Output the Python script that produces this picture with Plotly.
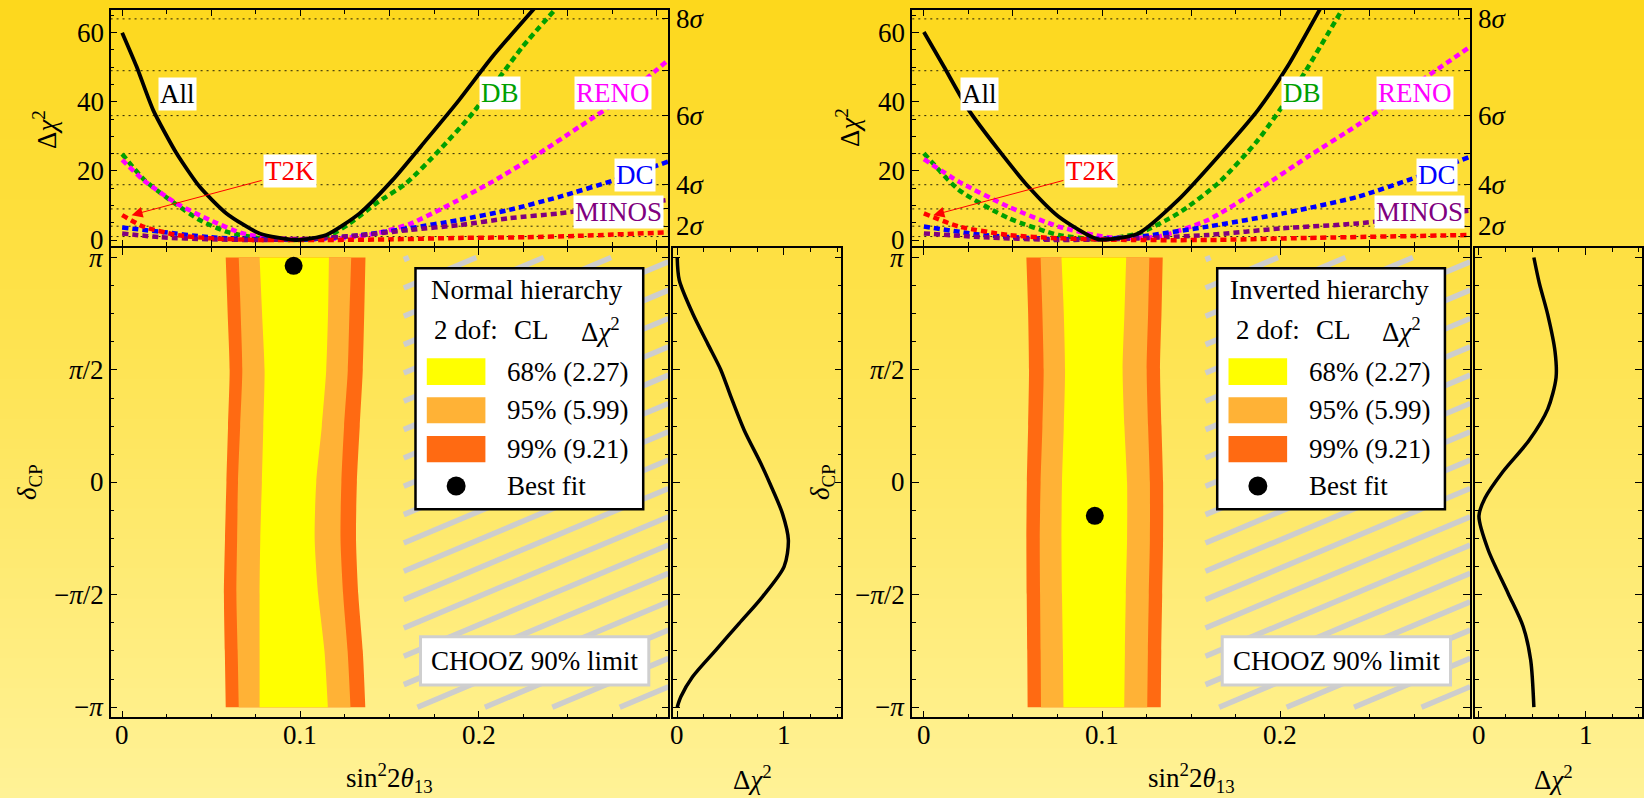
import plotly.graph_objects as go

W, H = 1644, 798
FONT = "Liberation Serif"
FS = 27

# ---------------- data ----------------
sigma_levels = [1, 4, 9, 16, 25, 36, 49, 64]
sigma_label_levels = [4, 16, 36, 64]
sigma_labels = ["2<i>σ</i>", "4<i>σ</i>", "6<i>σ</i>", "8<i>σ</i>"]
delta_ticks = [-1, -0.5, 0, 0.5, 1]
delta_ticktext = ["−<i>π</i>", "−<i>π</i>/2", "0", "<i>π</i>/2", "<i>π</i>"]
c_ticks = [0, 20, 40, 60]
c_ticktext = ["0", "20", "40", "60"]
s_ticks = [0, 0.1, 0.2]
s_ticktext = ["0", "0.1", "0.2"]
p_ticks = [0, 1]
p_ticktext = ["0", "1"]

# Normal hierarchy: Δχ² vs sin²2θ13 per experiment
nh_all_s = [0, 0.0081, 0.0174, 0.0305, 0.0435, 0.0585, 0.0771, 0.0977, 0.1145, 0.1332, 0.1518, 0.1705, 0.189, 0.2078, 0.2312]
nh_all_c = [60, 50.2, 37.6, 25.1, 15.4, 7.7, 1.9, 0, 1.45, 7.7, 17.4, 28.9, 40.5, 53.1, 67]
nh_db_s = [0, 0.0124, 0.0268, 0.0435, 0.0585, 0.0771, 0.0958, 0.1145, 0.1276, 0.1425, 0.1593, 0.178, 0.1966, 0.2246, 0.2434]
nh_db_c = [24.9, 17.4, 11.6, 5.8, 2.4, 0.5, 0, 0.8, 4.8, 10.6, 16.4, 26, 36.7, 55.9, 67]
nh_reno_s = [0, 0.0118, 0.0305, 0.0491, 0.0678, 0.0865, 0.1052, 0.1238, 0.1425, 0.1611, 0.1798, 0.2078, 0.2316, 0.2566, 0.2816, 0.3064]
nh_reno_c = [23.2, 17.4, 10.6, 5.8, 1.9, 0.5, 0.2, 0.5, 1.9, 4.6, 9.2, 16.9, 24.3, 32.8, 41.5, 52.1]
nh_dc_s = [0, 0.0212, 0.0491, 0.0771, 0.1052, 0.1332, 0.1611, 0.189, 0.217, 0.2452, 0.2767, 0.3064]
nh_dc_c = [3.6, 2.4, 0.8, 0.2, 0.2, 1.4, 3.4, 5.8, 8.7, 12.5, 17.4, 22.7]
nh_minos_s = [0, 0.0212, 0.0491, 0.0771, 0.1052, 0.1332, 0.1611, 0.189, 0.217, 0.2452, 0.2764, 0.3064]
nh_minos_c = [1.9, 0.8, 0.2, 0, 0.4, 1.35, 2.9, 4.3, 6.3, 7.7, 9.7, 11.6]
nh_t2k_s = [0, 0.0118, 0.0305, 0.0491, 0.0771, 0.1145, 0.1518, 0.189, 0.2265, 0.2555, 0.3064]
nh_t2k_c = [7.2, 3.9, 1.45, 0.5, 0, 0, 0.2, 0.6, 0.8, 1.2, 2.2]

# Inverted hierarchy
ih_all_s = [0, 0.0112, 0.0252, 0.042, 0.0587, 0.0755, 0.0979, 0.1203, 0.1427, 0.165, 0.1874, 0.204, 0.2224]
ih_all_c = [60.2, 50.2, 37.6, 26, 15.4, 6.8, 0.2, 1.9, 11.6, 24.1, 37.6, 50.2, 67]
ih_db_s = [0, 0.0196, 0.0476, 0.0755, 0.0979, 0.1203, 0.1427, 0.165, 0.1874, 0.2098, 0.235]
ih_db_c = [25.1, 14.5, 6.3, 1.45, 0.2, 1.9, 7.7, 16.4, 28.9, 45.3, 67]
ih_reno_s = [0, 0.0196, 0.0476, 0.0755, 0.1035, 0.1315, 0.1594, 0.1874, 0.2154, 0.2434, 0.2713, 0.3063]
ih_reno_c = [23.4, 16.9, 9.6, 3.9, 0.8, 1.0, 5.8, 14.5, 24.1, 33.3, 43.4, 55.9]
ih_dc_s = [0, 0.0336, 0.0755, 0.1175, 0.1594, 0.2014, 0.2434, 0.277, 0.3063]
ih_dc_c = [3.9, 1.45, 0.2, 0.8, 3.9, 7.7, 12.5, 18.3, 24.1]
ih_minos_s = [0, 0.0336, 0.0755, 0.1175, 0.1594, 0.2014, 0.2434, 0.3063]
ih_minos_c = [1.9, 0.8, 0, 0.4, 1.45, 3.4, 4.8, 8.5]
ih_t2k_s = [0, 0.0196, 0.0476, 0.0755, 0.1175, 0.1594, 0.2154, 0.3063]
ih_t2k_c = [7.7, 3.9, 1.45, 0.5, 0, 0, 0.6, 1.45]

# allowed regions (δCP in units of π) : left / right edges of each CL band
band_d = [1, 0.75, 0.5, 0.25, 0, -0.25, -0.5, -0.75, -1]
nh68_l = [0.0771, 0.0785, 0.0799, 0.0792, 0.0784, 0.0775, 0.0771, 0.0771, 0.0771]
nh68_r = [0.1160, 0.1155, 0.1145, 0.1120, 0.1089, 0.1080, 0.1100, 0.1135, 0.1154]
nh95_l = [0.0654, 0.0665, 0.0674, 0.0662, 0.0650, 0.0645, 0.0641, 0.0648, 0.0654]
nh95_r = [0.1285, 0.1275, 0.1266, 0.1245, 0.1230, 0.1225, 0.1240, 0.1265, 0.1281]
nh99_l = [0.0581, 0.0592, 0.0603, 0.0594, 0.0585, 0.0577, 0.0571, 0.0576, 0.0581]
nh99_r = [0.1365, 0.1358, 0.1350, 0.1333, 0.1317, 0.1312, 0.1325, 0.1350, 0.1364]
ih68_l = [0.0772, 0.0785, 0.0792, 0.0785, 0.0775, 0.0772, 0.0775, 0.0780, 0.0783]
ih68_r = [0.1135, 0.1125, 0.1115, 0.1125, 0.1140, 0.1140, 0.1133, 0.1128, 0.1124]
ih95_l = [0.0655, 0.0665, 0.0672, 0.0665, 0.0655, 0.0650, 0.0652, 0.0655, 0.0657]
ih95_r = [0.1265, 0.1258, 0.1250, 0.1258, 0.1268, 0.1268, 0.1262, 0.1257, 0.1253]
ih99_l = [0.0575, 0.0585, 0.0590, 0.0585, 0.0578, 0.0575, 0.0577, 0.0580, 0.0582]
ih99_r = [0.1340, 0.1333, 0.1325, 0.1333, 0.1342, 0.1342, 0.1337, 0.1332, 0.1329]

nh_best = (0.0962, 0.963)
ih_best = (0.0959, -0.149)

# marginal Δχ² vs δCP (δ in units of π)
nh_prof_d = [1, 0.9, 0.752, 0.618, 0.5, 0.381, 0.233, 0.085, -0.004, -0.138, -0.257, -0.375, -0.509, -0.627, -0.746, -0.865, -0.954, -1]
nh_prof_c = [0, 0.019, 0.144, 0.284, 0.409, 0.503, 0.627, 0.783, 0.868, 0.986, 1.042, 1.002, 0.799, 0.581, 0.362, 0.144, 0.034, 0]
ih_prof_d = [1, 0.886, 0.746, 0.583, 0.466, 0.326, 0.186, 0.047, -0.07, -0.149, -0.301, -0.494, -0.642, -0.79, -1]
ih_prof_c = [0.515, 0.566, 0.645, 0.713, 0.723, 0.645, 0.469, 0.224, 0.057, 0, 0.087, 0.274, 0.415, 0.485, 0.515]

chooz_limit = 0.158
cl_labels = ["68% (2.27)", "95% (5.99)", "99% (9.21)"]
cl_colors = ["#FFFF00", "#FFB236", "#FF6A12"]
exp_names = ["All", "DB", "T2K", "RENO", "DC", "MINOS"]
exp_colors = ["#000000", "#00A000", "#FF0000", "#FF00FF", "#0000FF", "#800080"]
exp_label_pos = [(0.0312, 42.3), (0.2122, 42.5), (0.094, 20.0), (0.2754, 42.5), (0.2878, 18.8), (0.2782, 8.1)]

# ---------------- geometry (pixels) ----------------
OFF = 802.7
X_MAIN = (110.7, 669.3)
X_SMALL = (674.3, 842.3)
Y_TOP = (10, 245.5)
Y_BOT = (248.3, 717.3)
S_RANGE = [-0.0065, 0.3065]
C_RANGE = [-1.59, 66.57]
D_RANGE = [-1.045, 1.041]
P_RANGE = [-0.035, 1.538]


def fx(p):
    return p / W


def fy(p):
    return 1 - p / H


def xdom(a, b):
    return [max(0, fx(a)), min(1, fx(b))]


def ydom(a, b):
    return [fy(b), fy(a)]


def ax_name(letter, n):
    return letter if n == 1 else "%s%d" % (letter, n)


def ax_key(letter, n):
    return ("xaxis" if letter == "x" else "yaxis") + ("" if n == 1 else str(n))


def text_ann(x, y, text, xanchor="center", yanchor="middle", size=FS, color="black", angle=0, **kw):
    d = dict(x=x, y=y, text=text, showarrow=False, xanchor=xanchor, yanchor=yanchor,
             textangle=angle, font=dict(family=FONT, size=size, color=color))
    d.setdefault("xref", "paper")
    d.setdefault("yref", "paper")
    d.update(kw)
    return d


fig = go.Figure()
shapes = []
annotations = []

# background gradient
N = 80
c0 = (253, 216, 28)
c1 = (255, 242, 150)
for i in range(N):
    t = i / (N - 1)
    col = "rgb(%d,%d,%d)" % tuple(round(c0[k] + (c1[k] - c0[k]) * t) for k in range(3))
    top = 1.05 if i == 0 else 1 - i / N
    bot = -0.05 if i == N - 1 else 1 - (i + 1) / N - 0.002
    shapes.append(dict(type="rect", xref="paper", yref="paper", x0=-0.05, x1=1.05,
                       y0=bot, y1=top, fillcolor=col, line=dict(width=0), layer="below"))

axis_common = dict(showline=True, linecolor="black", linewidth=1.5, zeroline=False,
                   showgrid=False, ticks="inside", tickcolor="black", tickwidth=1,
                   showticklabels=False)

layout_axes = {}


def build_panel(idx, off, s_curves, bands, best, prof, title):
    nt, nb, ns, nsig = 3 * idx + 1, 3 * idx + 2, 3 * idx + 3, 7 + idx
    xt, yt = ax_name("x", nt), ax_name("y", nt)
    xb, yb = ax_name("x", nb), ax_name("y", nb)
    xs, ys = ax_name("x", ns), ax_name("y", ns)
    ysig = ax_name("y", nsig)

    minor_s = dict(ticks="inside", dtick=0.025, tick0=0, ticklen=4, tickcolor="black")
    minor_d = dict(ticks="inside", dtick=0.125, tick0=0, ticklen=4, tickcolor="black")
    layout_axes[ax_key("x", nt)] = dict(axis_common, domain=xdom(X_MAIN[0] + off, X_MAIN[1] + off),
                                        range=S_RANGE, anchor=yt, mirror="ticks",
                                        tickvals=[0, 0.05, 0.1, 0.15, 0.2, 0.25, 0.3], ticklen=6, minor=minor_s)
    layout_axes[ax_key("y", nt)] = dict(axis_common, domain=ydom(*Y_TOP), range=C_RANGE, anchor=xt,
                                        mirror=True, tickvals=c_ticks, ticklen=7,
                                        minor=dict(ticks="inside", dtick=5, tick0=0, ticklen=4, tickcolor="black"))
    layout_axes[ax_key("y", nsig)] = dict(axis_common, range=C_RANGE, overlaying=yt, anchor=xt, side="right",
                                          tickvals=sigma_levels, ticklen=6, showline=False)
    layout_axes[ax_key("x", nb)] = dict(axis_common, domain=xdom(X_MAIN[0] + off, X_MAIN[1] + off),
                                        range=S_RANGE, anchor=yb, mirror="ticks", tickvals=s_ticks,
                                        ticklen=7, minor=minor_s)
    layout_axes[ax_key("y", nb)] = dict(axis_common, domain=ydom(*Y_BOT), range=D_RANGE, anchor=xb,
                                        mirror="ticks", tickvals=delta_ticks, ticklen=7, minor=minor_d)
    s_dom_end = min(X_SMALL[1] + off, W)
    p_range = [P_RANGE[0], P_RANGE[0] + (s_dom_end - X_SMALL[0] - off) * (P_RANGE[1] - P_RANGE[0]) / (X_SMALL[1] - X_SMALL[0])]
    layout_axes[ax_key("x", ns)] = dict(axis_common, domain=xdom(X_SMALL[0] + off, s_dom_end), range=p_range,
                                        anchor=ys, mirror="ticks", tickvals=p_ticks, ticklen=7,
                                        minor=dict(ticks="inside", dtick=0.25, tick0=0, ticklen=4, tickcolor="black"))
    layout_axes[ax_key("y", ns)] = dict(axis_common, domain=ydom(*Y_BOT), range=D_RANGE, anchor=xs,
                                        mirror="ticks", tickvals=delta_ticks, ticklen=7, minor=minor_d)

    # tick labels drawn as serif annotations, positioned via the axes
    left_px = X_MAIN[0] + off - 5
    for v, t in zip(c_ticks, c_ticktext):
        annotations.append(text_ann(fx(left_px), v, t, xanchor="right", yref=yt))
    for v, t in zip(delta_ticks, delta_ticktext):
        annotations.append(text_ann(fx(left_px), v, t, xanchor="right", yref=yb))
    for v, t in zip(s_ticks, s_ticktext):
        annotations.append(text_ann(v, fy(735), t, xref=xb))
    for v, t in zip(p_ticks, p_ticktext):
        annotations.append(text_ann(v, fy(735), t, xref=xs))

    # dotted sigma grid lines
    for lv in sigma_levels:
        shapes.append(dict(type="line", xref=xt + " domain", yref=yt, x0=0, x1=1, y0=lv, y1=lv,
                           line=dict(color="rgba(0,0,0,0.85)", width=1, dash="2px,4px"), layer="below"))
    fig.add_trace(go.Scatter(x=[None], y=[None], xaxis=xt, yaxis=ysig, showlegend=False))
    for lv, lab in zip(sigma_label_levels, sigma_labels):
        annotations.append(text_ann(fx(675 + off), lv, lab, xanchor="left", yref=yt))

    # curves: order dashed first, All on top
    order = [1, 3, 4, 5, 2, 0]
    for k in order:
        s, c = s_curves[k]
        fig.add_trace(go.Scatter(x=s, y=c, mode="lines", xaxis=xt, yaxis=yt, showlegend=False,
                                 hoverinfo="skip",
                                 line=dict(color=exp_colors[k], width=3.8 if k == 0 else 4.5,
                                           dash="solid" if k == 0 else "6px,4px",
                                           shape="spline", smoothing=0.6)))
    for k, name in enumerate(exp_names):
        annotations.append(text_ann(exp_label_pos[k][0], exp_label_pos[k][1], name, color=exp_colors[k],
                                    xref=xt, yref=yt, bgcolor="white", borderpad=1))
    # T2K arrow
    annotations.append(dict(x=0.0053, y=7.2, ax=0.0794, ay=17.4, xref=xt, yref=yt, axref=xt, ayref=yt,
                            text=" ", showarrow=True, arrowhead=2, arrowsize=2.2, arrowwidth=1,
                            arrowcolor="#FF0000", font=dict(family=FONT, size=4)))

    # hatch for CHOOZ excluded region
    x_left, x_right = chooz_limit, S_RANGE[1]
    slope, step, yref0 = 3.33, 0.126, 0.981
    hx, hy = [], []
    for k in range(-5, 40):
        a = yref0 - k * step - slope * x_right
        lo = max(x_left, (-1 - a) / slope)
        hi = min(x_right, (1 - a) / slope)
        if lo < hi:
            hx += [lo, hi, None]
            hy += [a + slope * lo, a + slope * hi, None]
    fig.add_trace(go.Scatter(x=hx, y=hy, mode="lines", xaxis=xb, yaxis=yb, showlegend=False,
                             hoverinfo="skip", line=dict(color="#CDCDCD", width=5.5)))

    # CL bands: smooth left and right edges, filled horizontally between them
    for (left, right), col in zip(bands, [cl_colors[2], cl_colors[1], cl_colors[0]]):
        fig.add_trace(go.Scatter(x=left, y=band_d, mode="lines",
                                 line=dict(width=0, color=col, shape="spline", smoothing=0.7),
                                 xaxis=xb, yaxis=yb, showlegend=False, hoverinfo="skip"))
        fig.add_trace(go.Scatter(x=right, y=band_d, mode="lines", fill="tonextx", fillcolor=col,
                                 line=dict(width=0, color=col, shape="spline", smoothing=0.7),
                                 xaxis=xb, yaxis=yb, showlegend=False, hoverinfo="skip"))
    fig.add_trace(go.Scatter(x=[best[0]], y=[best[1]], mode="markers", xaxis=xb, yaxis=yb,
                             marker=dict(color="black", size=18), showlegend=False, hoverinfo="skip"))
    # profile
    fig.add_trace(go.Scatter(x=prof[1], y=prof[0], mode="lines", xaxis=xs, yaxis=ys, showlegend=False,
                             hoverinfo="skip", line=dict(color="black", width=3.5, shape="spline", smoothing=0.8)))

    # legend box
    shapes.append(dict(type="rect", xref="paper", yref="paper", x0=fx(416 + off), x1=fx(644 + off),
                       y0=fy(509.3), y1=fy(268.3), fillcolor="white", line=dict(color="black", width=2.5),
                       layer="above"))
    annotations.append(text_ann(fx(528 + off), fy(290), title))
    for txt, cx in [("2 dof:", 466.5), ("CL", 532.5), ("Δ<i>χ</i><sup>2</sup>", 601)]:
        annotations.append(text_ann(fx(cx + off), fy(330), txt))
    rows = [(358.3, 385), (397.3, 423.3), (436, 462.3)]
    for (y0, y1), col, lab in zip(rows, cl_colors, cl_labels):
        shapes.append(dict(type="rect", xref="paper", yref="paper", x0=fx(427.3 + off), x1=fx(486 + off),
                           y0=fy(y1), y1=fy(y0), fillcolor=col, line=dict(width=0), layer="above"))
        annotations.append(text_ann(fx(506 + off), fy((y0 + y1) / 2), lab, xanchor="left"))
    r = 9.5
    shapes.append(dict(type="circle", xref="paper", yref="paper", x0=fx(456.7 - r + off), x1=fx(456.7 + r + off),
                       y0=fy(486 + r), y1=fy(486 - r), fillcolor="black", line=dict(width=0), layer="above"))
    annotations.append(text_ann(fx(506 + off), fy(486), "Best fit", xanchor="left"))
    # CHOOZ box
    shapes.append(dict(type="rect", xref="paper", yref="paper", x0=fx(421 + off), x1=fx(649.6 + off),
                       y0=fy(685), y1=fy(636.7), fillcolor="white", line=dict(color="#CFCFCF", width=3),
                       layer="above"))
    annotations.append(text_ann(fx(535.3 + off), fy(661), "CHOOZ 90% limit"))


build_panel(0, 0,
            [(nh_all_s, nh_all_c), (nh_db_s, nh_db_c), (nh_t2k_s, nh_t2k_c), (nh_reno_s, nh_reno_c),
             (nh_dc_s, nh_dc_c), (nh_minos_s, nh_minos_c)],
            [(nh99_l, nh99_r), (nh95_l, nh95_r), (nh68_l, nh68_r)], nh_best, (nh_prof_d, nh_prof_c),
            "Normal hierarchy")
build_panel(1, OFF,
            [(ih_all_s, ih_all_c), (ih_db_s, ih_db_c), (ih_t2k_s, ih_t2k_c), (ih_reno_s, ih_reno_c),
             (ih_dc_s, ih_dc_c), (ih_minos_s, ih_minos_c)],
            [(ih99_l, ih99_r), (ih95_l, ih95_r), (ih68_l, ih68_r)], ih_best, (ih_prof_d, ih_prof_c),
            "Inverted hierarchy")

# axis titles
titles = [
    ("Δ<i>χ</i><sup>2</sup>", 45, 129, -90),
    ("<i>δ</i><sub>CP</sub>", 29, 482, -90),
    ("sin<sup>2</sup>2<i>θ</i><sub>13</sub>", 390, 778, 0),
    ("Δ<i>χ</i><sup>2</sup>", 753, 778, 0),
    ("Δ<i>χ</i><sup>2</sup>", 849, 127, -90),
    ("<i>δ</i><sub>CP</sub>", 823, 482, -90),
    ("sin<sup>2</sup>2<i>θ</i><sub>13</sub>", 390 + OFF, 778, 0),
    ("Δ<i>χ</i><sup>2</sup>", 753 + OFF, 778, 0),
]
for txt, x, y, ang in titles:
    annotations.append(text_ann(fx(x), fy(y), txt, angle=ang))

fig.update_layout(width=W, height=H, autosize=False, margin=dict(l=0, r=0, t=0, b=0),
                  paper_bgcolor="rgb(255,230,90)", plot_bgcolor="rgba(0,0,0,0)",
                  shapes=shapes, annotations=annotations, showlegend=False,
                  font=dict(family=FONT, size=FS, color="black"), **layout_axes)

fig.write_html("out.html")
